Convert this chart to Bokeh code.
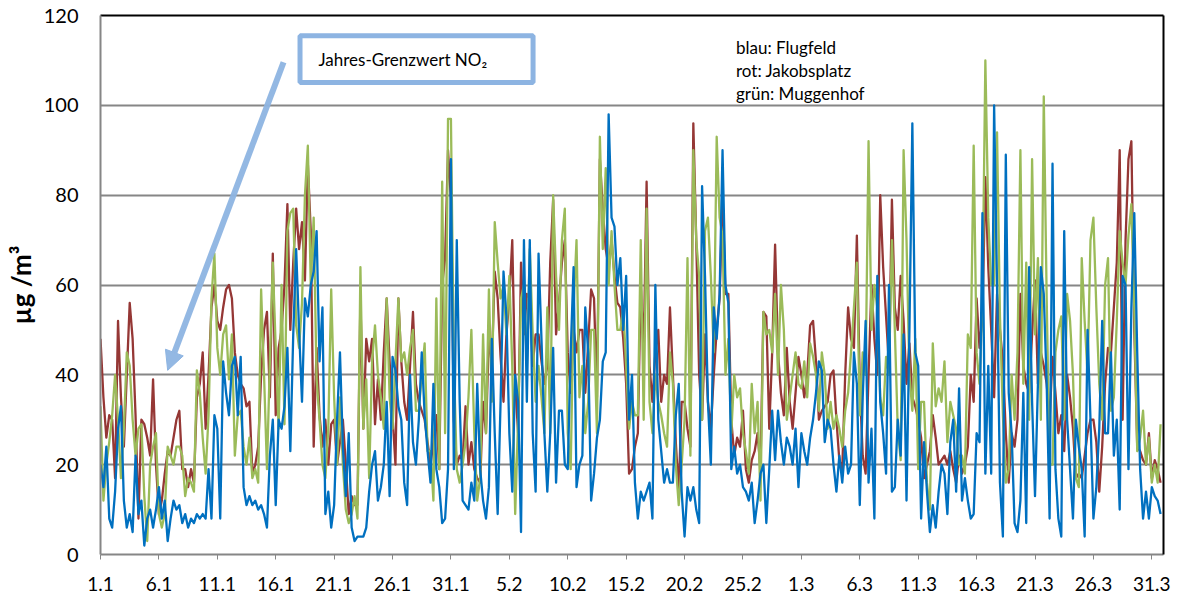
from bokeh.plotting import figure
from bokeh.models import Range1d, FixedTicker, LinearAxis, BoxAnnotation, Label, Arrow, NormalHead
from bokeh.embed import file_html
from bokeh.resources import INLINE

STEP_DAYS = 0.25

blau = [
    20,15,24,8,6,14,28,33,12,6, 9,5,22,9,12,2,8,10,6,10, 15,8,12,3,8,12,10,11,7,9, 6,8,7,9,8,9,8,19,8,31, 28,8,43,36,31,42,44,31,44,15, 11,13,
    11,12,10,11,9,6,22,30,11,30, 28,33,46,23,49,68,50,34,57,53, 60,63,72,43,55,9,14,6,11,30, 45,24,13,27,6,3,4,4,4,6, 14,20,23,12,15,20,34,13,44,41, 33,30,
    16,11,40,25,20,30,45,31,23,16, 38,19,15,7,8,19,88,19,70,34, 12,11,10,16,12,38,19,12,8,15, 48,27,9,34,63,53,27,14,40,34, 5,70,34,70,27,14,67,48,27,14, 27,46,
    16,32,32,20,19,45,64,15,20,22, 55,45,12,18,26,30,43,45,98,75, 73,60,66,50,62,30,40,16,8,14, 12,14,16,8,60,30,23,16,19,16, 16,31,38,14,4,15,12,15,10,7, 82,62,
    34,20,55,48,58,90,60,56,19,24, 18,20,15,14,12,16,7,12,18,20, 7,19,32,21,32,25,20,26,24,20, 28,15,27,23,20,26,30,36,43,41, 25,30,28,20,14,22,16,24,18,20, 45,38,
    11,35,52,16,28,8,62,34,27,18, 60,14,15,30,22,49,12,50,96,45, 42,8,25,14,5,11,6,14,20,18, 9,25,30,14,37,12,17,12,8,9, 27,25,76,18,42,18,100,60,16,4, 89,36,
    27,7,5,12,36,7,64,34,13,38, 64,58,38,8,87,19,8,4,72,30, 19,8,30,24,19,4,50,30,8,15, 28,52,27,27,45,22,30,10,62,60, 19,55,76,45,19,8,14,8,15,13, 12,9,
]

rot = [
    48,35,26,31,30,17,52,35,24,40, 56,48,31,8,30,29,26,22,39,20, 9,12,18,23,22,26,30,32,19,19, 15,19,16,35,38,45,28,40,55,60, 52,50,55,59,60,57,45,40,38,37, 33,34,
    18,20,24,40,50,54,35,67,31,46, 50,60,78,50,65,77,68,74,61,87, 72,24,46,31,24,30,20,29,30,20, 25,30,20,9,13,11,11,57,28,48, 43,48,29,39,30,45,57,43,31,20, 57,43,
    34,30,42,54,38,34,32,30,25,20, 25,31,19,60,66,90,79,30,20,22, 21,33,20,25,19,17,16,34,27,49, 42,63,57,44,34,49,57,70,38,27, 65,49,58,57,42,49,49,43,38,42, 65,79,
    49,56,65,70,45,36,50,45,50,50, 36,47,59,57,35,88,77,68,64,70, 62,56,55,48,38,18,19,24,27,60, 45,83,42,34,45,50,34,40,38,55, 40,25,14,34,34,28,24,96,70,40, 30,49,
    34,28,40,50,57,80,58,58,30,22, 26,24,32,19,16,21,23,27,19,54, 53,28,45,69,45,36,31,46,34,28, 36,44,40,35,40,51,52,43,30,32, 33,34,40,41,30,21,19,40,55,48, 46,71,
    38,22,18,40,60,48,40,80,64,53, 42,79,55,50,62,52,38,47,35,33, 30,26,17,20,23,31,26,20,21,22, 20,23,19,16,22,18,20,24,40,34, 57,46,53,84,64,50,35,58,50,43, 27,16,
    27,24,30,58,42,38,36,49,61,38, 45,42,38,30,44,36,27,31,23,40, 35,28,17,18,17,22,27,30,30,25, 14,24,38,46,45,55,65,90,30,70, 88,92,50,24,23,21,20,27,17,21, 19,16,
]

gruen = [
    33,12,20,25,31,40,30,17,28,45, 42,30,22,28,29,13,3,20,24,27, 9,6,9,24,22,20,24,24,22,13, 17,16,14,41,36,26,18,31,57,67, 46,40,49,51,39,49,22,31,32,24, 20,26,
    17,19,16,59,40,19,43,65,46,28, 60,29,72,76,77,51,46,56,80,91, 60,75,39,30,20,17,28,59,35,20, 35,20,10,7,9,13,8,64,28,39, 17,43,51,40,35,28,57,35,28,43, 57,43,
    45,40,46,50,32,32,40,47,23,23, 12,57,19,83,27,97,97,43,19,16, 20,25,35,50,27,12,17,49,27,59, 34,74,65,57,60,49,62,42,9,30, 57,60,42,68,49,34,42,35,27,55, 27,80,
    62,50,70,77,27,19,55,70,35,42, 27,34,50,50,27,93,68,86,60,72, 60,50,50,55,42,28,34,31,31,70, 30,77,34,27,40,34,31,27,24,45, 38,20,11,20,30,66,22,90,70,62, 30,72,
    75,62,45,93,75,71,40,48,27,40, 35,37,27,23,18,38,27,34,12,54, 49,50,45,58,40,60,50,30,35,40, 45,38,37,43,35,47,44,40,32,45, 40,28,34,28,31,28,24,32,36,45, 55,65,
    31,45,40,92,50,60,55,35,31,44, 40,70,50,28,21,90,70,40,32,48, 19,34,34,16,10,47,33,37,34,43, 25,34,31,28,20,22,18,49,46,91, 45,38,56,110,75,60,60,94,53,31, 16,19,
    40,30,45,90,38,65,30,88,49,66, 30,102,57,20,20,45,50,53,30,58, 52,40,17,15,66,52,40,70,75,55, 38,30,60,66,32,35,52,72,65,60, 71,78,55,23,26,32,20,26,16,20, 16,29,
]

tick_days = [0, 5, 10, 15, 20, 25, 30, 35, 40, 45, 50, 55, 60, 65, 70, 75, 80, 85, 90]
tick_labels = ["1.1", "6.1", "11.1", "16.1", "21.1", "26.1", "31.1", "5.2", "10.2", "15.2",
               "20.2", "25.2", "1.3", "6.3", "11.3", "16.3", "21.3", "26.3", "31.3"]
y_ticks = [0, 20, 40, 60, 80, 100, 120]

legend_lines = ["blau: Flugfeld", "rot: Jakobsplatz", "grün: Muggenhof"]
note_text = "Jahres-Grenzwert NO\u2082"

C_BLUE = "#0070C0"
C_RED = "#953735"
C_GREEN = "#9BBB59"
C_NOTE = "#8DB4E2"
C_AXIS = "#868686"
FONT = "Lato"

n_days = len(blau) * STEP_DAYS
x = [i * STEP_DAYS for i in range(len(blau))]

p = figure(width=1182, height=599, x_range=Range1d(0, n_days), y_range=Range1d(0, 120),
           output_backend="svg", toolbar_location=None,
           min_border_left=100, min_border_right=19, min_border_top=15, min_border_bottom=45)
p.outline_line_color = None
p.background_fill_color = "white"
p.border_fill_color = "white"

# grid
p.xgrid.grid_line_color = None
p.ygrid.ticker = FixedTicker(ticks=[20, 40, 60, 80, 100])
p.ygrid.grid_line_color = C_AXIS
p.ygrid.grid_line_width = 2

# x axis
xa = p.xaxis[0]
xa.ticker = FixedTicker(ticks=tick_days)
xa.major_label_overrides = {d: l for d, l in zip(tick_days, tick_labels)}
xa.minor_tick_line_color = None
xa.major_tick_in = 0
xa.major_tick_out = 5
xa.major_tick_line_color = C_AXIS
xa.major_tick_line_width = 1
xa.axis_line_color = C_AXIS
xa.axis_line_width = 2
xa.major_label_standoff = 17
xa.major_label_text_font = FONT
xa.major_label_text_font_size = "19px"
xa.major_label_text_color = "black"

# y axis
ya = p.yaxis[0]
ya.ticker = FixedTicker(ticks=y_ticks)
ya.minor_tick_line_color = None
ya.major_tick_line_color = None
ya.major_tick_in = 0
ya.major_tick_out = 0
ya.axis_line_color = C_AXIS
ya.axis_line_width = 2
ya.major_label_standoff = 22
ya.major_label_text_font = FONT
ya.major_label_text_font_size = "20px"
ya.major_label_text_color = "black"
ya.axis_label = "µg /m³"
ya.axis_label_text_font = FONT
ya.axis_label_text_font_style = "bold"
ya.axis_label_text_font_size = "26px"
ya.axis_label_text_color = "black"
ya.axis_label_standoff = 4

# black top / right borders
for loc in ("above", "right"):
    ax = LinearAxis(ticker=FixedTicker(ticks=[]), axis_line_color="black", axis_line_width=2,
                    major_tick_line_color=None, minor_tick_line_color=None,
                    major_label_text_font_size="0px")
    p.add_layout(ax, loc)

# series (drawn in Excel-like stacking: red, green, blue on top)
p.line(x, rot, line_color=C_RED, line_width=2.3, line_join="round")
p.line(x, gruen, line_color=C_GREEN, line_width=2.3, line_join="round")
p.line(x, blau, line_color=C_BLUE, line_width=2.3, line_join="round")

# annotation box with arrow
p.add_layout(BoxAnnotation(left=17.08, right=37.03, bottom=105.1, top=115.5,
                           fill_color="white", fill_alpha=1.0,
                           line_color=C_NOTE, line_alpha=1.0, line_width=5))
p.add_layout(Label(x=18.66, y=110.2, text=note_text, text_font=FONT, text_font_size="17px",
                   text_color="black", text_baseline="middle", text_align="left"))
p.add_layout(Arrow(x_start=15.67, y_start=109.6, x_end=5.75, y_end=41.0,
                   line_color=C_NOTE, line_width=6, line_alpha=0.95,
                   end=NormalHead(size=19, fill_color=C_NOTE, line_color=C_NOTE, fill_alpha=0.95)))

# station legend text
for k, t in enumerate(legend_lines):
    p.add_layout(Label(x=54.4, y=112.9 - k * 5.12, text=t, text_font=FONT, text_font_size="17px",
                       text_color="black", text_baseline="middle", text_align="left"))

open("out.html", "w").write(file_html(p, INLINE))
